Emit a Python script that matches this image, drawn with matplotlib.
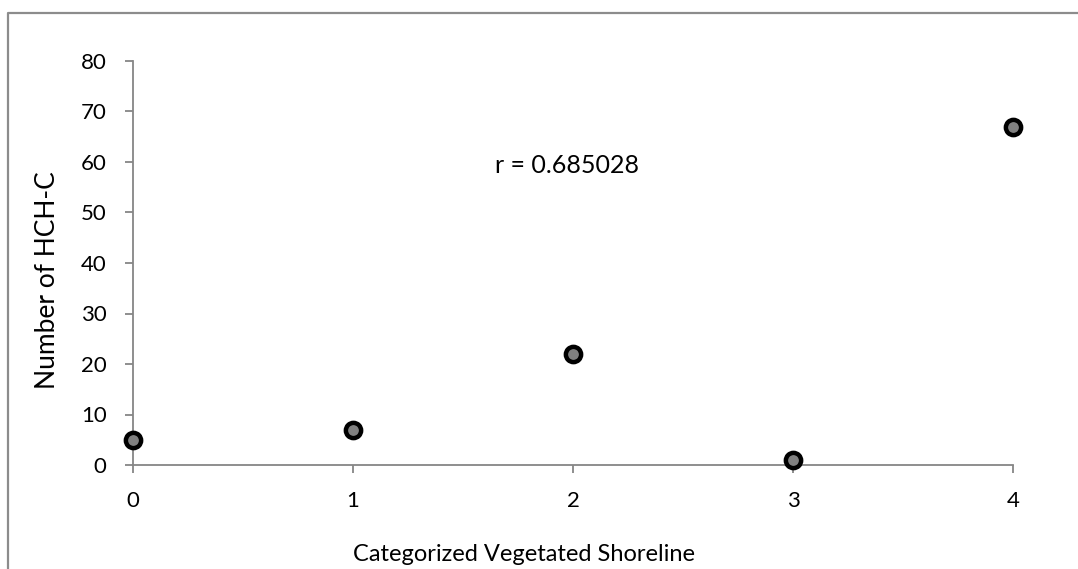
import matplotlib.pyplot as plt
from matplotlib.lines import Line2D

# data
shoreline_category = [0, 1, 2, 3, 4]
hch_count = [5, 7, 22, 1, 67]
x_ticks = [0, 1, 2, 3, 4]
y_ticks = [0, 10, 20, 30, 40, 50, 60, 70, 80]
r_label = "r = 0.685028"

plt.rcParams["font.family"] = ["Lato", "DejaVu Sans"]
AXIS_GRAY = "#868686"

fig = plt.figure(figsize=(10.78, 5.69), dpi=100)
W, H = 1078, 569
ax = fig.add_axes([133 / W, 1 - 465 / H, 880 / W, 404 / H])

# outer chart frame (only left and top edges visible in the reference)
fig.add_artist(Line2D([8 / W, 8 / W, 1.0], [0.0, 1 - 13 / H, 1 - 13 / H],
                      transform=fig.transFigure, color="#8c8c8c", linewidth=1.6))

ax.plot(shoreline_category, hch_count, linestyle="none", marker="o",
        markersize=11, markerfacecolor="#808080", markeredgecolor="black",
        markeredgewidth=3.2, clip_on=False, zorder=3)

ax.set_xlim(0, 4)
ax.set_ylim(0, 80)
ax.set_xticks(x_ticks)
ax.set_yticks(y_ticks)

for side in ("top", "right"):
    ax.spines[side].set_visible(False)
for side in ("left", "bottom"):
    ax.spines[side].set_color(AXIS_GRAY)
    ax.spines[side].set_linewidth(1.3)

ax.tick_params(axis="both", direction="out", length=6, width=1.3, color=AXIS_GRAY,
               labelsize=16, labelcolor="black")
ax.tick_params(axis="y", pad=13)
ax.tick_params(axis="x", pad=13)

ax.set_xlabel("Categorized Vegetated Shoreline", fontsize=17)
ax.set_ylabel("Number of HCH-C", fontsize=19)
ax.xaxis.set_label_coords((524 - 133) / 880, (465 - 544) / 404)
ax.yaxis.set_label_coords((60 - 133) / 880, (465 - 280) / 404)

ax.text(1.645, 59.4, r_label, fontsize=18, ha="left", va="center")

fig.savefig("out.png", dpi=100)
